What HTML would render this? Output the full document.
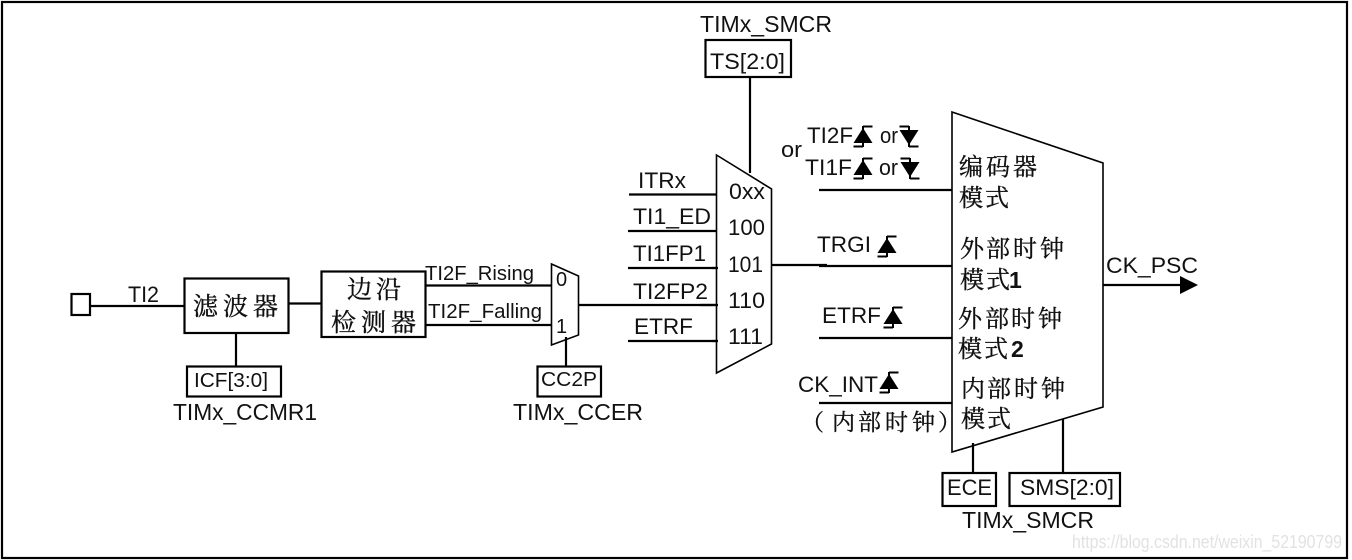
<!DOCTYPE html>
<html>
<head>
<meta charset="utf-8">
<style>
html,body{margin:0;padding:0;background:#fff;}
svg{display:block;}
text{font-family:"Liberation Sans","Noto Sans CJK SC",sans-serif;fill:#111;}
.l{font-size:22px;}
.c{font-family:"Noto Serif CJK SC","Noto Sans CJK SC",serif;font-size:24px;fill:#111;stroke:#111;stroke-width:.35;}
line,polyline,rect{stroke:#000;stroke-width:2.2;fill:none;}
polygon.o{stroke:#000;stroke-width:1.6;fill:#fff;}
</style>
</head>
<body>
<svg width="1352" height="560" viewBox="0 0 1352 560" xmlns="http://www.w3.org/2000/svg">
<defs>
<g id="up"><polygon points="0,2 9.5,17 -9.5,17" fill="#000"/><path d="M0,0.5 H9.5 M0,0 V21 M0,20.5 H-9.5" stroke="#000" stroke-width="2" fill="none"/></g>
<g id="down"><polygon points="0,19 9.5,4 -9.5,4" fill="#000"/><path d="M0,0.5 H-9.5 M0,0 V21 M0,20.5 H9.5" stroke="#000" stroke-width="2" fill="none"/></g>
</defs>
<rect x="2" y="2" width="1345" height="556" stroke-width="2.4"/>

<rect x="71.5" y="294" width="18.5" height="21"/>
<line x1="90" y1="306" x2="184" y2="306"/>
<text class="l" x="128" y="302" textLength="31" lengthAdjust="spacingAndGlyphs">TI2</text>

<rect x="184.5" y="278.5" width="104" height="54.5"/>
<text class="c" x="193 223 253" y="315" style="font-size:25px">滤波器</text>
<line x1="288" y1="303.5" x2="321" y2="303.5"/>
<rect x="321.5" y="271.5" width="104" height="65.5"/>
<text class="c" x="347 376" y="298" style="font-size:25px">边沿</text>
<text class="c" x="331 361 391" y="331" style="font-size:25px">检测器</text>
<line x1="236" y1="333" x2="236" y2="366"/>
<rect x="187" y="366.5" width="94" height="30"/>
<text class="l" x="194" y="387" textLength="74" lengthAdjust="spacingAndGlyphs" style="font-size:20px">ICF[3:0]</text>
<text class="l" x="173" y="420" textLength="144" lengthAdjust="spacingAndGlyphs" style="font-size:23px">TIMx_CCMR1</text>

<text class="l" x="425" y="280" textLength="109" lengthAdjust="spacingAndGlyphs" style="font-size:20.5px">TI2F_Rising</text>
<line x1="425" y1="285.5" x2="552" y2="285.5"/>
<text class="l" x="428" y="318" textLength="114" lengthAdjust="spacingAndGlyphs" style="font-size:20.5px">TI2F_Falling</text>
<line x1="425" y1="325" x2="552" y2="325"/>

<polygon class="o" points="551.5,264 578.5,276 578.5,335 551.5,345"/>
<text class="l" x="556" y="286" style="font-size:20px">0</text>
<text class="l" x="556" y="333" style="font-size:20px">1</text>
<line x1="578" y1="305" x2="716" y2="305"/>
<line x1="566" y1="337" x2="566" y2="366"/>
<rect x="537.5" y="366.5" width="63.5" height="30"/>
<text class="l" x="541" y="386" textLength="56" lengthAdjust="spacingAndGlyphs" style="font-size:20px">CC2P</text>
<text class="l" x="513" y="420" textLength="130" lengthAdjust="spacingAndGlyphs" style="font-size:23px">TIMx_CCER</text>

<line x1="750" y1="77" x2="750" y2="173"/>
<rect x="705.5" y="40" width="85.5" height="37"/>
<text class="l" x="710" y="69" textLength="75" lengthAdjust="spacingAndGlyphs">TS[2:0]</text>
<text class="l" x="700" y="32" textLength="132" lengthAdjust="spacingAndGlyphs" style="font-size:23px">TIMx_SMCR</text>

<line x1="629" y1="194.5" x2="716" y2="194.5"/>
<line x1="628" y1="231" x2="716" y2="231"/>
<line x1="628" y1="268" x2="718" y2="268"/>
<line x1="628" y1="341" x2="718" y2="341"/>
<polygon class="o" points="716.5,155 771.5,189 771.5,344 716.5,373"/>
<line x1="700" y1="305" x2="718" y2="305"/>
<line x1="712" y1="268" x2="718" y2="268"/>
<line x1="712" y1="341" x2="718" y2="341"/>
<text class="l" x="638" y="188" textLength="48" lengthAdjust="spacingAndGlyphs">ITRx</text>
<text class="l" x="633" y="224" textLength="78" lengthAdjust="spacingAndGlyphs">TI1_ED</text>
<text class="l" x="633" y="261" textLength="73" lengthAdjust="spacingAndGlyphs">TI1FP1</text>
<text class="l" x="633" y="299" textLength="75" lengthAdjust="spacingAndGlyphs">TI2FP2</text>
<text class="l" x="634" y="334" textLength="59" lengthAdjust="spacingAndGlyphs">ETRF</text>
<text class="l" x="729" y="199" textLength="36" lengthAdjust="spacingAndGlyphs">0xx</text>
<text class="l" x="728" y="235" textLength="37" lengthAdjust="spacingAndGlyphs">100</text>
<text class="l" x="728" y="272" textLength="35" lengthAdjust="spacingAndGlyphs">101</text>
<text class="l" x="728" y="308" textLength="37" lengthAdjust="spacingAndGlyphs">110</text>
<text class="l" x="728" y="344" textLength="35" lengthAdjust="spacingAndGlyphs">111</text>

<text class="l" x="781" y="157" textLength="21" lengthAdjust="spacingAndGlyphs">or</text>
<text class="l" x="807" y="143" textLength="46" lengthAdjust="spacingAndGlyphs">TI2F</text>
<text class="l" x="880" y="143" textLength="18" lengthAdjust="spacingAndGlyphs">or</text>
<text class="l" x="805" y="175" textLength="47" lengthAdjust="spacingAndGlyphs">TI1F</text>
<text class="l" x="879" y="175" textLength="19" lengthAdjust="spacingAndGlyphs">or</text>
<use href="#up" x="863" y="126"/>
<use href="#down" x="909" y="126"/>
<use href="#up" x="863" y="158"/>
<use href="#down" x="910" y="158"/>

<text class="l" x="817" y="252" textLength="54" lengthAdjust="spacingAndGlyphs">TRGI</text>
<use href="#up" x="887" y="236"/>
<line x1="772" y1="265" x2="827" y2="265"/>
<text class="l" x="822" y="323" textLength="59" lengthAdjust="spacingAndGlyphs">ETRF</text>
<use href="#up" x="893" y="307"/>
<text class="l" x="798" y="392" textLength="80" lengthAdjust="spacingAndGlyphs">CK_INT</text>
<use href="#up" x="889" y="372"/>
<text class="c" x="801 832 858 885 912 938" y="430" style="font-size:23px">（内部时钟）</text>

<polygon class="o" points="952,112 1103,163 1103,407 952,452"/>
<line x1="819" y1="190" x2="952" y2="190"/>
<line x1="819" y1="266" x2="952" y2="266"/>
<line x1="819" y1="338" x2="952" y2="338"/>
<line x1="819" y1="403" x2="952" y2="403"/>
<text class="c" x="959 986 1013" y="175">编码器</text>
<text class="c" x="959 985" y="206">模式</text>
<text class="c" x="960 986 1013 1040" y="257">外部时钟</text>
<text class="c" x="960 986" y="288">模式</text>
<text class="l" x="1009" y="288" style="font-size:23px;font-weight:bold">1</text>
<text class="c" x="958 985 1011 1038" y="327">外部时钟</text>
<text class="c" x="958 984" y="357">模式</text>
<text class="l" x="1011" y="357" style="font-size:23px;font-weight:bold">2</text>
<text class="c" x="961 987 1014 1041" y="397">内部时钟</text>
<text class="c" x="961 987" y="427">模式</text>

<line x1="1103" y1="285" x2="1182" y2="285"/>
<polygon points="1180,276 1198,285 1180,294" fill="#000"/>
<text class="l" x="1106" y="273" textLength="92" lengthAdjust="spacingAndGlyphs">CK_PSC</text>

<line x1="973" y1="443" x2="973" y2="473"/>
<line x1="1063" y1="419" x2="1063" y2="473"/>
<rect x="942.5" y="473" width="53.5" height="33"/>
<text class="l" x="947" y="495" textLength="45" lengthAdjust="spacingAndGlyphs">ECE</text>
<rect x="1009.5" y="473" width="110.5" height="33"/>
<text class="l" x="1020" y="495" textLength="94" lengthAdjust="spacingAndGlyphs">SMS[2:0]</text>
<text class="l" x="962" y="528" textLength="132" lengthAdjust="spacingAndGlyphs" style="font-size:23px">TIMx_SMCR</text>

<text x="1072" y="548" textLength="270" lengthAdjust="spacingAndGlyphs" style="font-size:18px;fill:#e2e2e2">https://blog.csdn.net/weixin_52190799</text>
</svg>
</body>
</html>
